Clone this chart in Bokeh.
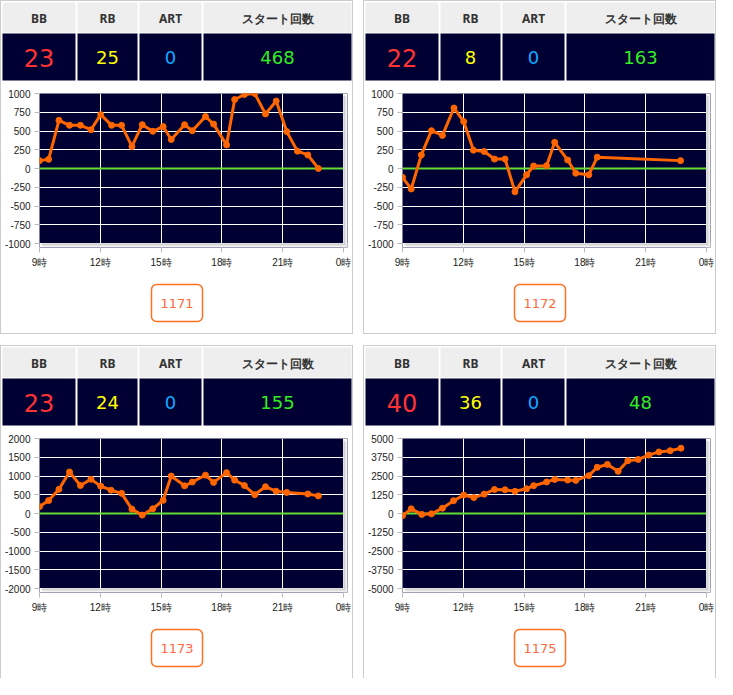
from bokeh.plotting import figure
from bokeh.layouts import column, row
from bokeh.models import Range1d, FixedTicker, Grid, ColumnDataSource
from bokeh.embed import file_html
from bokeh.resources import INLINE
from bokeh.core.properties import value
import numpy as np

# ---------------- data ----------------
headers = ["BB", "RB", "ART", "スタート回数"]
panel_ids = ["1171", "1172", "1173", "1175"]
bb_counts = [23, 22, 23, 40]
rb_counts = [25, 8, 24, 36]
art_counts = [0, 0, 0, 0]
start_counts = [468, 163, 155, 48]

hour_ticks = [9, 12, 15, 18, 21, 24]
hour_labels = ["9時", "12時", "15時", "18時", "21時", "0時"]

t1 = [9.0, 9.45, 9.96, 10.48, 11.02, 11.54, 12.02, 12.56, 13.05, 13.56, 14.07, 14.59,
      15.10, 15.50, 16.16, 16.54, 17.19, 17.59, 18.23, 18.63, 19.11, 19.62, 20.15,
      20.68, 21.2, 21.73, 22.24, 22.76]
v1 = [105, 122, 643, 576, 576, 517, 718, 576, 576, 294, 584, 496, 559, 387, 584, 504,
      693, 592, 315, 920, 987, 1000, 727, 899, 492, 231, 181, 0]

t2 = [9.0, 9.43, 9.93, 10.43, 10.97, 11.54, 12.02, 12.50, 13.03, 13.54, 14.06, 14.55,
      15.12, 15.47, 16.11, 16.51, 17.15, 17.55, 18.19, 18.61, 22.72]
v2 = [-118, -273, 181, 504, 441, 807, 626, 244, 227, 126, 126, -311, -84, 34, 38, 349,
      113, -63, -84, 151, 105]

t3 = [9.0, 9.45, 9.96, 10.48, 11.02, 11.54, 12.02, 12.53, 13.05, 13.56, 14.07, 14.59,
      15.10, 15.50, 16.16, 16.54, 17.19, 17.59, 18.23, 18.63, 19.11, 19.62, 20.15,
      20.68, 21.2, 22.24, 22.76]
v3 = [184, 344, 646, 1107, 746, 914, 730, 621, 537, 117, -42, 126, 352, 998, 738, 839,
      1023, 830, 1090, 889, 746, 503, 713, 595, 562, 520, 470]

t4 = [9.0, 9.43, 9.95, 10.43, 10.97, 11.52, 12.02, 12.52, 13.03, 13.54, 14.06, 14.55,
      15.12, 15.47, 16.11, 16.51, 17.15, 17.55, 18.19, 18.61, 19.11, 19.64, 20.12,
      20.63, 21.15, 21.65, 22.21, 22.74]
v4 = [-146, 312, -62, -21, 354, 854, 1229, 1062, 1291, 1604, 1583, 1479, 1646, 1854,
      2104, 2271, 2229, 2208, 2521, 3083, 3271, 2812, 3520, 3604, 3896, 4104, 4187, 4354]

y_limits = [1000, 1000, 2000, 5000]
y_steps = [250, 250, 500, 1250]

series_t = [t1, t2, t3, t4]
series_v = [v1, v2, v3, v4]

# ---------------- style ----------------
INNER_W = 351
NAVY = "#000033"
ORANGE = "#ff6600"
LABEL_FONT = "Liberation Sans"
NUM_FONT = "DejaVu Sans"
LEFT_B = 38       # left border of the chart (px)
SHADOW = 4        # shadow strip (px)
RIGHT_B = 5
PLOT_W = INNER_W - LEFT_B - RIGHT_B - SHADOW   # navy plot area width (px)
PLOT_H = 150      # navy plot area height (px)


def blank_fig(w, h):
    p = figure(width=w, height=h, x_range=Range1d(0, w), y_range=Range1d(h, 0),
               toolbar_location=None, output_backend="svg", min_border=0)
    p.axis.visible = False
    p.grid.visible = False
    p.outline_line_color = None
    p.background_fill_color = "white"
    p.border_fill_color = "white"
    return p


def table_fig(i):
    p = blank_fig(INNER_W, 80)
    edges = [1, 75, 137, 201, 350]
    lefts = [edges[0]] + [e + 1 for e in edges[1:-1]]
    rights = [e - 1 for e in edges[1:-1]] + [edges[-1]]
    centers = [(a + b) / 2 for a, b in zip(lefts, rights)]
    p.quad(left=lefts, right=rights, top=1, bottom=31, fill_color="#eeeeee", line_color=None)
    p.quad(left=lefts, right=rights, top=32, bottom=79, fill_color=NAVY, line_color=None)
    p.text(x=centers, y=[16.5] * 4, text=headers, text_align="center", text_baseline="middle",
           text_font=value("Noto Sans"), text_font_style="bold", text_font_size="12px",
           text_color="#333333")
    vals = [str(bb_counts[i]), str(rb_counts[i]), str(art_counts[i]), str(start_counts[i])]
    src = ColumnDataSource(dict(
        x=centers, y=[56] * 4, t=vals,
        c=["#ff3333", "#ffff00", "#11aaff", "#33ee22"],
        s=["24px", "18px", "18px", "18px"]))
    p.text(x="x", y="y", text="t", text_color="c", text_font_size="s", source=src,
           text_align="center", text_baseline="middle", text_font=value(NUM_FONT))
    return p


def chart_fig(i):
    lim = y_limits[i]
    step = y_steps[i]
    yticks = [int(v) for v in np.arange(-lim, lim + step, step)]
    dx = 15.0 / PLOT_W          # hours per px
    dy = 2.0 * lim / PLOT_H     # units per px
    x_end = 24 + SHADOW * dx
    y_start = -lim - SHADOW * dy
    p = figure(width=INNER_W, height=192, x_range=Range1d(9, x_end),
               y_range=Range1d(y_start, lim),
               toolbar_location=None, output_backend="svg",
               min_border_left=LEFT_B, min_border_right=RIGHT_B,
               min_border_top=12, min_border_bottom=30 - SHADOW)
    p.background_fill_color = NAVY
    p.border_fill_color = "white"
    p.outline_line_color = None
    p.xaxis.ticker = FixedTicker(ticks=hour_ticks)
    p.xaxis.major_label_overrides = {k: v for k, v in zip(hour_ticks, hour_labels)}
    p.yaxis.ticker = FixedTicker(ticks=yticks)
    p.yaxis.major_label_overrides = {k: str(k) for k in yticks}
    p.xgrid.ticker = FixedTicker(ticks=hour_ticks)
    p.ygrid.ticker = FixedTicker(ticks=[t for t in yticks if t != 0])
    for g in (p.xgrid[0], p.ygrid[0]):
        g.grid_line_color = "white"
        g.grid_line_width = 1
    zero = Grid(dimension=1, ticker=FixedTicker(ticks=[0]), grid_line_color="#66dd33",
                grid_line_width=2)
    p.add_layout(zero)
    for ax in (p.xaxis[0], p.yaxis[0]):
        ax.axis_line_color = None
        ax.major_tick_line_color = "#bbbbbb"
        ax.major_tick_in = 0
        ax.major_tick_out = 5
        ax.minor_tick_line_color = None
        ax.major_label_text_font = LABEL_FONT
        ax.major_label_text_font_size = "10px"
        ax.major_label_text_color = "#222222"
    p.yaxis.major_label_standoff = 4
    p.xaxis.major_label_standoff = 4

    # white margin + soft drop shadow on right / bottom of the plot area
    p.quad(left=[24, 9], right=[x_end, x_end], top=[lim, -lim], bottom=[y_start, y_start],
           fill_color="white", line_color=None)
    p.quad(left=[24, 9 + 3 * dx], right=[24 + 3 * dx, 24 + 3 * dx],
           top=[lim - 3 * dy, -lim], bottom=[-lim - 3 * dy, -lim - 3 * dy],
           fill_color="#e4e4e4", line_color=None)
    p.quad(left=[24, 9 + 2 * dx], right=[24 + 1.5 * dx, 24 + 1.5 * dx],
           top=[lim - 2 * dy, -lim], bottom=[-lim - 1.5 * dy, -lim - 1.5 * dy],
           fill_color="#d2d2d2", line_color=None)

    p.line(series_t[i], series_v[i], line_color=ORANGE, line_width=3)
    p.scatter(series_t[i], series_v[i], size=6, fill_color=ORANGE, line_color=ORANGE)
    return p


def button_fig(i):
    p = blank_fig(INNER_W, 60)
    p.quad(left=[150], right=[201], top=[11], bottom=[48], fill_color="white",
           line_color="#ff7020", line_width=1.5, border_radius=5)
    p.text(x=[175.5], y=[30], text=[panel_ids[i]], text_align="center", text_baseline="middle",
           text_font=value(NUM_FONT), text_font_size="13px", text_color="#ff6a40")
    return p


def panel(i, bottom_border=True):
    st = {"border": "1px solid #cccccc"}
    if not bottom_border:
        st = {"border-left": "1px solid #cccccc", "border-right": "1px solid #cccccc",
              "border-top": "1px solid #cccccc"}
    return column(row(table_fig(i)), row(chart_fig(i)), row(button_fig(i)),
                  spacing=0, styles=st)


layout = column(
    row(panel(0), panel(1), spacing=10),
    row(panel(2, False), panel(3, False), spacing=10),
    spacing=11,
)

open("out.html", "w").write(file_html(layout, INLINE, "chart"))
